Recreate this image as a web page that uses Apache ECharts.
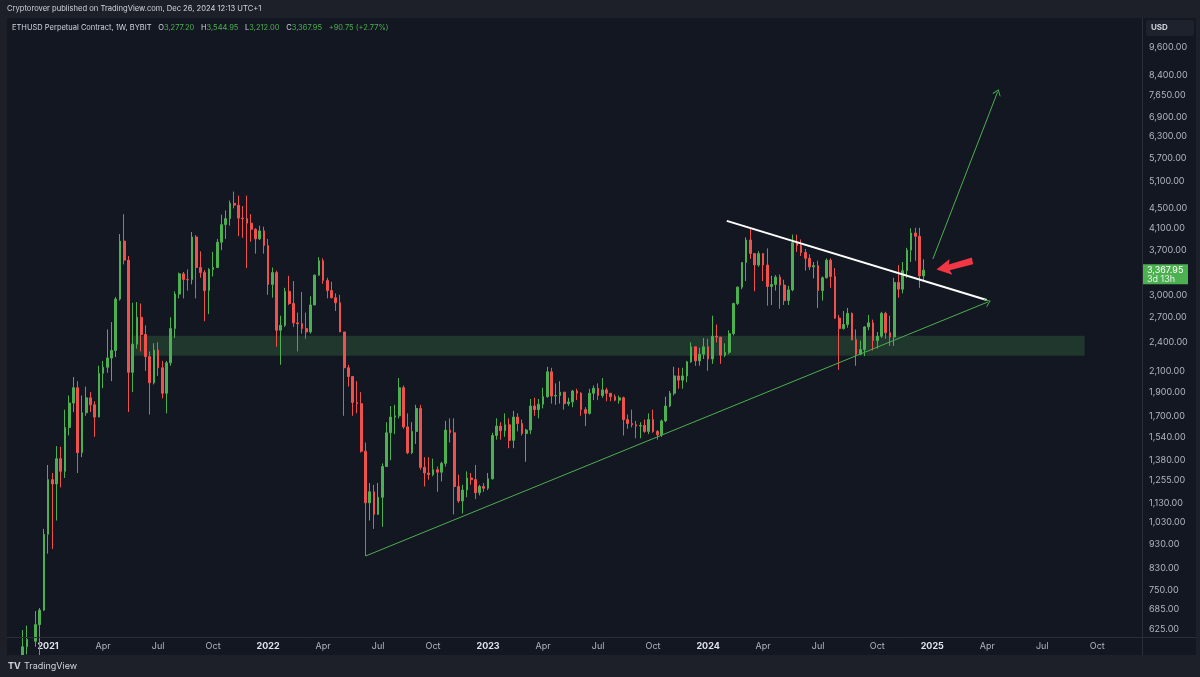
<!DOCTYPE html>
<html>
<head>
<meta charset="utf-8">
<title>ETHUSD Perpetual Contract, 1W</title>
<script src="https://cdn.jsdelivr.net/npm/echarts@6/dist/echarts.min.js"></script>
<style>
  html, body { margin: 0; padding: 0; background: #1d2029; }
  #chart { width: 1200px; height: 677px; }
</style>
</head>
<body>
<div id="chart"></div>
<script>
// weekly bars, first bar opens monday 2020-11-23
const firstWeek = '2020-11-23';

const open = [
  510, 575, 595, 590, 638, 683,
  975, 1260, 1235, 1390, 1310, 1610, 1805, 1940, 1430, 1725, 1850, 1790, 1690, 2075, 2135, 2230, 2310, 2940, 3860, 3530, 2085, 2380, 2700, 2490, 2245, 1985, 2315, 2130, 1890, 2180, 2560, 3010, 3310, 3225, 3220, 3935, 3410, 3330, 3060, 3380, 3410, 3840, 4170, 4290, 4610, 4570, 4300, 4290, 4200, 4080, 3900, 4050,
  3780, 3150, 3330, 2540, 2600, 3050, 2880, 2630, 2620, 2560, 2520, 2860, 3290, 3520, 3210, 3060, 2960, 2890, 2520, 2130, 2045, 1810, 1800, 1440, 1130, 1190, 1070, 1160, 1340, 1570, 1690, 1700, 1940, 1614, 1430, 1580, 1760, 1335, 1300, 1290, 1320, 1305, 1360, 1590, 1570, 1220, 1140, 1200, 1270, 1260, 1185, 1220,
  1210, 1265, 1550, 1620, 1585, 1630, 1515, 1690, 1640, 1565, 1590, 1780, 1750, 1795, 1860, 2090, 1865, 1870, 1900, 1800, 1815, 1910, 1890, 1750, 1720, 1890, 1935, 1870, 1920, 1890, 1860, 1830, 1850, 1670, 1640, 1630, 1620, 1625, 1580, 1670, 1580, 1555, 1660, 1780, 1890, 2050, 2010, 2050, 2190, 2350, 2200, 2270,
  2350, 2220, 2470, 2460, 2260, 2290, 2500, 2880, 3110, 3490, 3880, 3640, 3450, 3640, 3450, 3120, 3150, 3260, 3140, 2920, 3070, 3830, 3780, 3660, 3560, 3420, 3440, 3060, 3250, 3530, 3270, 2690, 2560, 2610, 2750, 2430, 2270, 2320, 2580, 2630, 2420, 2470, 2750, 2510, 2460, 3180, 3080, 3360, 3700, 4010, 3950, 3277.2
];
const high = [
  622, 635, 600, 680, 690, 1000,
  1350, 1300, 1475, 1470, 1750, 1870, 2040, 2000, 1870, 1950, 1900, 1820, 2150, 2200, 2550, 2640, 2970, 3990, 4380, 3600, 2890, 2900, 2880, 2600, 2300, 2390, 2400, 2200, 2200, 2700, 3050, 3330, 3340, 3380, 4030, 3970, 3680, 3370, 3400, 3670, 3900, 4370, 4460, 4670, 4870, 4780, 4550, 4780, 4380, 4100, 4150, 4130,
  3900, 3410, 3360, 2720, 3100, 3280, 3200, 2760, 3040, 2760, 2980, 3300, 3580, 3560, 3250, 3190, 3020, 3000, 2520, 2160, 2050, 2000, 1900, 1500, 1240, 1230, 1240, 1360, 1650, 1780, 1790, 2030, 1960, 1720, 1650, 1790, 1790, 1400, 1400, 1390, 1340, 1370, 1660, 1680, 1680, 1290, 1230, 1310, 1300, 1350, 1230, 1240,
  1300, 1570, 1680, 1650, 1720, 1680, 1740, 1720, 1670, 1600, 1840, 1850, 1840, 1940, 2140, 2130, 1980, 2000, 1900, 1850, 1920, 1930, 1900, 1770, 1930, 1960, 1980, 2030, 1940, 1890, 1880, 1870, 1860, 1710, 1750, 1660, 1650, 1670, 1720, 1750, 1590, 1670, 1860, 1910, 2140, 2130, 2130, 2200, 2400, 2350, 2340, 2450,
  2440, 2720, 2610, 2460, 2390, 2540, 2890, 3120, 3500, 3930, 4090, 3650, 3680, 3650, 3730, 3280, 3290, 3300, 3220, 3130, 3980, 3980, 3890, 3720, 3630, 3500, 3520, 3270, 3560, 3560, 3400, 2730, 2780, 2820, 2760, 2550, 2420, 2590, 2730, 2670, 2520, 2770, 2770, 2720, 3250, 3450, 3500, 3740, 4100, 4110, 4110, 3544.95
];
const low = [
  480, 555, 535, 575, 550, 680,
  890, 910, 1040, 1215, 1270, 1550, 1730, 1300, 1400, 1700, 1730, 1540, 1690, 1935, 2080, 2000, 2240, 2920, 3460, 1730, 1900, 2330, 2300, 2100, 1710, 1970, 2050, 1845, 1720, 2150, 2450, 2950, 2950, 3060, 3150, 2950, 3250, 2650, 2740, 3270, 3400, 3700, 3900, 4150, 4500, 3950, 3920, 3400, 3850, 3640, 3880, 3640,
  3000, 2960, 2350, 2160, 2580, 2860, 2580, 2300, 2500, 2440, 2500, 2860, 3280, 3160, 2950, 2950, 2780, 2660, 1700, 1950, 1700, 1720, 1430, 880, 1040, 1000, 1070, 1010, 1340, 1380, 1560, 1680, 1600, 1420, 1420, 1490, 1320, 1220, 1260, 1280, 1190, 1250, 1340, 1500, 1070, 1130, 1075, 1160, 1230, 1150, 1170, 1190,
  1200, 1260, 1520, 1520, 1540, 1460, 1460, 1580, 1550, 1370, 1560, 1700, 1680, 1760, 1850, 1800, 1790, 1800, 1750, 1780, 1770, 1830, 1700, 1620, 1710, 1830, 1830, 1850, 1820, 1820, 1820, 1800, 1550, 1600, 1610, 1530, 1530, 1570, 1560, 1570, 1520, 1540, 1650, 1770, 1870, 1930, 1930, 1990, 2180, 2150, 2150, 2220,
  2100, 2170, 2400, 2170, 2240, 2270, 2480, 2860, 3080, 3200, 3550, 3050, 3420, 3200, 2850, 2860, 3060, 2810, 2860, 2860, 3050, 3670, 3600, 3360, 3370, 3240, 2820, 2920, 3240, 3100, 2680, 2110, 2550, 2570, 2420, 2150, 2260, 2250, 2540, 2310, 2330, 2450, 2440, 2360, 2360, 2960, 3020, 3250, 3500, 3520, 3100, 3212
];
const close = [
  575, 595, 590, 638, 683, 975,
  1260, 1235, 1390, 1310, 1610, 1805, 1940, 1430, 1725, 1850, 1790, 1690, 2075, 2135, 2230, 2310, 2940, 3860, 3530, 2085, 2380, 2700, 2490, 2245, 1985, 2315, 2130, 1890, 2180, 2560, 3010, 3310, 3225, 3220, 3935, 3410, 3330, 3060, 3380, 3410, 3840, 4170, 4290, 4610, 4570, 4300, 4290, 4200, 4080, 3900, 4050, 3780,
  3150, 3330, 2540, 2600, 3050, 2880, 2630, 2620, 2560, 2520, 2860, 3290, 3520, 3210, 3060, 2960, 2890, 2520, 2130, 2045, 1810, 1800, 1440, 1130, 1190, 1070, 1160, 1340, 1570, 1690, 1700, 1940, 1614, 1430, 1580, 1760, 1335, 1300, 1290, 1320, 1305, 1360, 1590, 1570, 1220, 1140, 1200, 1270, 1260, 1185, 1220, 1210,
  1265, 1550, 1620, 1585, 1630, 1515, 1690, 1640, 1565, 1590, 1780, 1750, 1795, 1860, 2090, 1865, 1870, 1900, 1800, 1815, 1910, 1890, 1750, 1720, 1890, 1935, 1870, 1920, 1890, 1860, 1830, 1850, 1670, 1640, 1630, 1620, 1625, 1580, 1670, 1580, 1555, 1660, 1780, 1890, 2050, 2010, 2050, 2190, 2350, 2200, 2270, 2350,
  2220, 2470, 2460, 2260, 2290, 2500, 2880, 3110, 3490, 3880, 3640, 3450, 3640, 3450, 3120, 3150, 3260, 3140, 2920, 3070, 3830, 3780, 3660, 3560, 3420, 3440, 3060, 3250, 3530, 3270, 2690, 2560, 2610, 2750, 2430, 2270, 2320, 2580, 2630, 2420, 2470, 2750, 2510, 2460, 3180, 3080, 3360, 3700, 4010, 3950, 3277.2, 3367.95
];

// price scale labels
const priceTicks = [625, 685, 750, 830, 930, 1030, 1130, 1255, 1380, 1540, 1700, 1900, 2100, 2400, 2700, 3000, 3700, 4100, 4500, 5100, 5700, 6300, 6900, 7650, 8400, 9600];

// time scale labels (first weekly bar of each quarter)
const timeTicks = [
  '2021-01-04', '2021-04-05', '2021-07-05', '2021-10-04',
  '2022-01-03', '2022-04-04', '2022-07-04', '2022-10-03',
  '2023-01-02', '2023-04-03', '2023-07-03', '2023-10-02',
  '2024-01-01', '2024-04-01', '2024-07-01', '2024-10-07',
  '2025-01-06', '2025-04-07', '2025-07-07', '2025-10-06'
];
const timeLabels = [
  '2021', 'Apr', 'Jul', 'Oct', '2022', 'Apr', 'Jul', 'Oct', '2023', 'Apr', 'Jul', 'Oct',
  '2024', 'Apr', 'Jul', 'Oct', '2025', 'Apr', 'Jul', 'Oct'
];

// drawings: [date, price]
const supportZone = [['2021-05-22', 2255], ['2025-09-15', 2475]];
const resistanceLine = [['2024-02-01', 4245], ['2025-04-06', 2928]];
const risingLine = [['2022-06-14', 881], ['2025-04-08', 2901]];
const targetArrow = [['2025-01-07', 3550], ['2025-04-24', 7770]];
const redMarker = ['2025-02-12', 3430];

const UP = '#4caf50';
const DOWN = '#f0514d';
const FRAME = '#1d2029';
const FONT = 'Inter, "Noto Sans", sans-serif';
const DAY = 86400000;
const t = s => Date.parse(s);

const t0 = t(firstWeek);
const candles = open.map((o, i) => [t0 + i * 7 * DAY, o, close[i], low[i], high[i]]);
const tickTimes = timeTicks.map(t);

const fmtPrice = v => Number(v).toLocaleString('en-US', { minimumFractionDigits: 2, maximumFractionDigits: 2 });

const last = open.length - 1;
const change = close[last] - close[last - 1];
const changePct = change / close[last - 1] * 100;

const chevron = 'path://M0,10 L5,0 L10,10 L8.7,10 L5,2.6 L1.3,10 Z';

const chart = echarts.init(document.getElementById('chart'));

const option = {
  backgroundColor: '#131722',
  animation: false,
  grid: { left: 7, right: 58, top: 18, bottom: 40, containLabel: false, outerBoundsMode: 'none' },
  xAxis: {
    type: 'value',
    min: t('2020-10-28'),
    max: t('2025-12-19'),
    axisLine: { show: false },
    axisTick: { show: false },
    splitLine: { show: false },
    axisLabel: {
      customValues: tickTimes,
      margin: 5,
      formatter: v => {
        const s = timeLabels[tickTimes.indexOf(v)] || '';
        return /^\d{4}$/.test(s) ? '{yr|' + s + '}' : '{mo|' + s + '}';
      },
      rich: {
        yr: { color: '#e0e3eb', fontSize: 9, fontWeight: 'bold', fontFamily: FONT },
        mo: { color: '#b2b5be', fontSize: 9, fontFamily: FONT }
      }
    }
  },
  yAxis: {
    type: 'log',
    logBase: 10,
    min: 602,
    max: 11000,
    position: 'right',
    axisLine: { show: false },
    axisTick: { show: false },
    splitLine: { show: false },
    axisLabel: {
      customValues: priceTicks,
      formatter: fmtPrice,
      color: '#b2b5be',
      fontSize: 9,
      fontFamily: FONT,
      margin: 7
    }
  },
  series: [{
    type: 'candlestick',
    data: candles,
    encode: { x: 0, y: [1, 2, 3, 4] },
    clip: true,
    barWidth: 2.2,
    itemStyle: { color: UP, color0: DOWN, borderColor: UP, borderColor0: DOWN, borderWidth: 1 },
    markArea: {
      silent: true,
      itemStyle: { color: 'rgba(76,175,80,0.22)' },
      data: [[
        { coord: [t(supportZone[0][0]), supportZone[0][1]] },
        { coord: [t(supportZone[1][0]), supportZone[1][1]] }
      ]]
    },
    markLine: {
      silent: true,
      animation: false,
      symbol: ['none', 'none'],
      label: { show: false },
      data: [
        [
          { coord: [t(resistanceLine[0][0]), resistanceLine[0][1]], lineStyle: { color: '#ffffff', width: 2, type: 'solid' } },
          { coord: [t(resistanceLine[1][0]), resistanceLine[1][1]], lineStyle: { color: '#ffffff', width: 2, type: 'solid' } }
        ],
        [
          { coord: [t(risingLine[0][0]), risingLine[0][1]], lineStyle: { color: UP, width: 1, type: 'solid' } },
          { coord: [t(risingLine[1][0]), risingLine[1][1]], lineStyle: { color: UP, width: 1, type: 'solid' }, symbol: chevron, symbolSize: [9, 6] }
        ],
        [
          { coord: [t(targetArrow[0][0]), targetArrow[0][1]], lineStyle: { color: UP, width: 1, type: 'solid' } },
          { coord: [t(targetArrow[1][0]), targetArrow[1][1]], lineStyle: { color: UP, width: 1, type: 'solid' }, symbol: chevron, symbolSize: [9, 6] }
        ]
      ]
    },
    markPoint: {
      silent: true,
      label: { show: false },
      data: [{
        coord: [t(redMarker[0]), redMarker[1]],
        symbol: 'path://M0,21 L40,0 L35,14 L100,6 L100,24 L35,29 L40,42 Z',
        symbolSize: [37, 16],
        symbolRotate: 10,
        itemStyle: { color: '#f23645' }
      }]
    }
  }],
  graphic: [
    // frame
    { type: 'rect', silent: true, z: 100, shape: { x: 0, y: 0, width: 1200, height: 18 }, style: { fill: FRAME } },
    { type: 'rect', silent: true, z: 100, shape: { x: 0, y: 0, width: 7, height: 677 }, style: { fill: FRAME } },
    { type: 'rect', silent: true, z: 100, shape: { x: 1196, y: 0, width: 4, height: 677 }, style: { fill: FRAME } },
    { type: 'rect', silent: true, z: 100, shape: { x: 0, y: 655, width: 1200, height: 22 }, style: { fill: FRAME } },
    // scale separators
    { type: 'line', silent: true, z: 100, shape: { x1: 1142.5, y1: 18, x2: 1142.5, y2: 655 }, style: { stroke: '#2a2e39', lineWidth: 1 } },
    { type: 'line', silent: true, z: 100, shape: { x1: 7, y1: 637.5, x2: 1196, y2: 637.5 }, style: { stroke: '#2a2e39', lineWidth: 1 } },
    // header
    {
      type: 'text', silent: true, z: 101, x: 7, y: 9,
      style: { text: 'Cryptorover published on TradingView.com, Dec 26, 2024 12:13 UTC+1', fill: '#d1d4dc', font: '7.6px ' + FONT, verticalAlign: 'middle' }
    },
    {
      type: 'text', silent: true, z: 101, x: 12, y: 28,
      style: {
        text: '{t|ETHUSD Perpetual Contract, 1W, BYBIT}  {k|O}{v|' + fmtPrice(open[last]) + '}  {k|H}{v|' + fmtPrice(high[last]) +
          '}  {k|L}{v|' + fmtPrice(low[last]) + '}  {k|C}{v|' + fmtPrice(close[last]) + '}  {v|+' + change.toFixed(2) + ' (+' + changePct.toFixed(2) + '%)}',
        verticalAlign: 'middle',
        rich: {
          t: { fill: '#d1d4dc', font: '7.5px ' + FONT },
          k: { fill: '#d1d4dc', font: '7.5px ' + FONT },
          v: { fill: UP, font: '7.5px ' + FONT }
        }
      }
    },
    // currency box
    { type: 'rect', silent: true, z: 101, shape: { x: 1146, y: 20, width: 48, height: 16, r: 2 }, style: { fill: '#1e222d' } },
    {
      type: 'text', silent: true, z: 102, x: 1151, y: 28,
      style: { text: 'USD', fill: '#d1d4dc', font: 'bold 8px ' + FONT, verticalAlign: 'middle' }
    },
    // footer logo
    {
      type: 'text', silent: true, z: 101, x: 8, y: 666,
      style: {
        text: '{l|TV} {n|TradingView}', verticalAlign: 'middle',
        rich: { l: { fill: '#d1d4dc', font: 'bold 9px ' + FONT }, n: { fill: '#d1d4dc', font: '9px ' + FONT } }
      }
    }
  ]
};

chart.setOption(option);

// last price tag on the price scale
const py = chart.convertToPixel({ yAxisIndex: 0 }, close[last]);
chart.setOption({
  graphic: option.graphic.concat([
    { type: 'rect', silent: true, z: 101, shape: { x: 1143, y: py - 6, width: 45, height: 20 }, style: { fill: UP } },
    { type: 'text', silent: true, z: 102, x: 1147, y: py, style: { text: fmtPrice(close[last]), fill: '#ffffff', font: '9px ' + FONT, verticalAlign: 'middle' } },
    { type: 'text', silent: true, z: 102, x: 1147, y: py + 9, style: { text: '3d 13h', fill: '#e8f5e9', font: '9px ' + FONT, verticalAlign: 'middle' } }
  ])
});
</script>
</body>
</html>
